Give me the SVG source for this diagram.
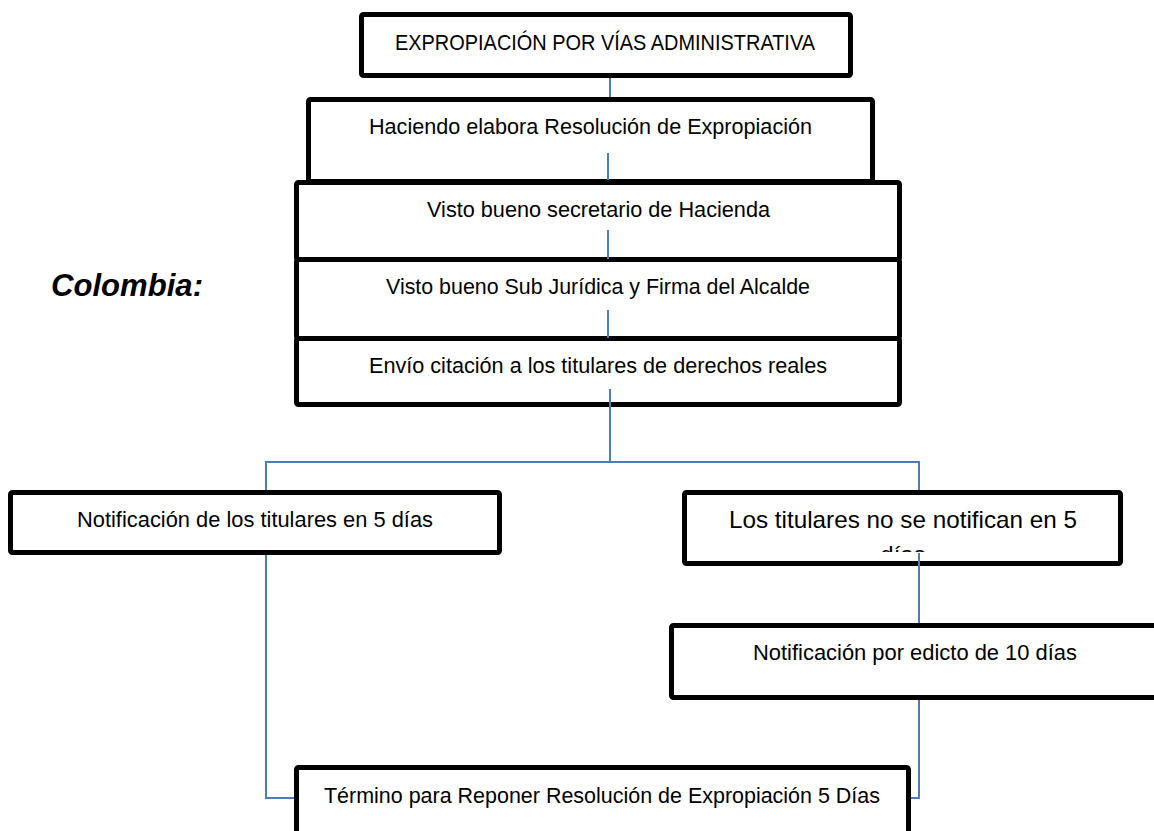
<svg xmlns="http://www.w3.org/2000/svg" width="1154" height="831" viewBox="0 0 1154 831">
<style>
.box{fill:#fff;stroke:#000;stroke-width:5;stroke-linejoin:round}
.t{font-family:"Liberation Sans",Arial,sans-serif;font-size:22px;fill:#000;text-anchor:middle}
.big{font-size:24px}
.c{fill:none;stroke:#4a7ebb;stroke-width:2}
.lbl{font-family:"Liberation Sans",Arial,sans-serif;font-size:31px;font-weight:bold;font-style:italic;fill:#000}
</style>
<defs>
<clipPath id="clipR"><rect x="684" y="492" width="436" height="60"/></clipPath>
</defs>
<rect width="1154" height="831" fill="#fff"/>
<text class="lbl" x="51" y="296" textLength="152" lengthAdjust="spacingAndGlyphs">Colombia:</text>
<g id="n1"><rect class="box" x="361.5" y="14.5" width="489" height="61" rx="2"/><text class="t" x="605" y="50" textLength="420" lengthAdjust="spacingAndGlyphs">EXPROPIACIÓN POR VÍAS ADMINISTRATIVA</text></g>
<g id="n2"><rect class="box" x="308.5" y="99.5" width="564" height="82" rx="2"/><text class="t" x="590.5" y="134" textLength="443" lengthAdjust="spacingAndGlyphs">Haciendo elabora Resolución de Expropiación</text></g>
<g id="n3"><rect class="box" x="296.5" y="182.5" width="603" height="77" rx="2"/><text class="t" x="598.5" y="217" textLength="343" lengthAdjust="spacingAndGlyphs">Visto bueno secretario de Hacienda</text></g>
<g id="n4"><rect class="box" x="296.5" y="259.5" width="603" height="79" rx="2"/><text class="t" x="598" y="294" textLength="424" lengthAdjust="spacingAndGlyphs">Visto bueno Sub Jurídica y Firma del Alcalde</text></g>
<g id="n5"><rect class="box" x="296.5" y="338.5" width="603" height="66" rx="2"/><text class="t" x="598" y="373" textLength="458" lengthAdjust="spacingAndGlyphs">Envío citación a los titulares de derechos reales</text></g>
<g id="n6"><rect class="box" x="10.5" y="492.5" width="489" height="60" rx="2"/><text class="t" x="255" y="527" textLength="356" lengthAdjust="spacingAndGlyphs">Notificación de los titulares en 5 días</text></g>
<g id="n7"><rect class="box" x="684.5" y="492.5" width="436" height="71" rx="2"/><g clip-path="url(#clipR)"><text class="t big" x="903" y="528" textLength="348" lengthAdjust="spacingAndGlyphs">Los titulares no se notifican en 5</text><text class="t big" x="903" y="563">días</text></g></g>
<g id="n8"><rect class="box" x="671.5" y="625.5" width="520" height="72" rx="2"/><text class="t" x="915" y="660" textLength="324" lengthAdjust="spacingAndGlyphs">Notificación por edicto de 10 días</text></g>
<g id="n9"><rect class="box" x="296.5" y="767.5" width="612" height="100" rx="2"/><text class="t" x="602" y="803" textLength="556" lengthAdjust="spacingAndGlyphs">Término para Reponer Resolución de Expropiación 5 Días</text></g>
<g id="connectors">
<path class="c" d="M610 78V97"/>
<path class="c" d="M608 153V180"/>
<path class="c" d="M608 230V259"/>
<path class="c" d="M608 310V338"/>
<path class="c" d="M610 389V462"/>
<path class="c" d="M266 490V462H919V490"/>
<path class="c" d="M266 555V798H294"/>
<path class="c" d="M919 553V623"/>
<path class="c" d="M919 700V798H911"/>
</g>
</svg>
